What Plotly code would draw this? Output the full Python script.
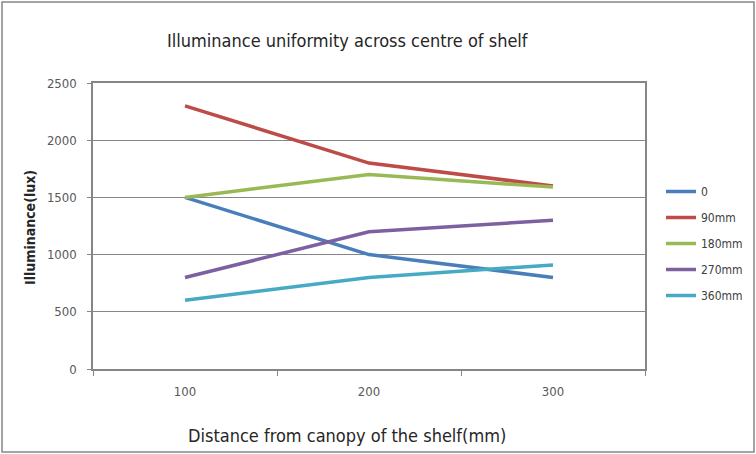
import plotly.graph_objects as go

categories = ["100", "200", "300"]
series_names = ["0", "90mm", "180mm", "270mm", "360mm"]
s_0 = [1500, 1000, 800]
s_90 = [2300, 1800, 1600]
s_180 = [1500, 1700, 1590]
s_270 = [800, 1200, 1300]
s_360 = [600, 800, 910]
y_ticks = [0, 500, 1000, 1500, 2000, 2500]

values = [s_0, s_90, s_180, s_270, s_360]
colors = ["#4A7EBB", "#BE4B48", "#98B954", "#7D60A0", "#46AAC5"]
FONT = "DejaVu Sans Condensed, Liberation Sans Narrow, Liberation Sans, sans-serif"

fig = go.Figure()
for name, vals, c in zip(series_names, values, colors):
    fig.add_trace(go.Scatter(x=categories, y=vals, name=name, mode="lines",
                             line=dict(color=c, width=3.5), legendgroup=name))

fig.update_layout(
    width=756, height=454,
    margin=dict(l=93, r=111, t=83, b=85),
    paper_bgcolor="white", plot_bgcolor="white",
    font=dict(family=FONT, color="#404040"),
    showlegend=True,
    legend=dict(xref="container", yref="container", x=661 / 756, y=1 - 177 / 454,
                xanchor="left", yanchor="top",
                font=dict(size=12, color="#404040", family=FONT),
                traceorder="grouped", tracegroupgap=7, itemwidth=30),
    xaxis=dict(type="category", range=[-0.5, 2.5], showgrid=False, showline=True,
               linecolor="#868686", linewidth=1.5, mirror=True, ticks="outside",
               tickson="boundaries", ticklen=5, tickcolor="#868686", ticklabelstandoff=10,
               tickfont=dict(size=13, color="#595959")),
    yaxis=dict(range=[0, 2500], tickvals=y_ticks, showgrid=True, gridcolor="#868686",
               gridwidth=1, showline=True, linecolor="#868686", linewidth=1.5, mirror=True,
               ticks="outside", ticklen=4, tickcolor="#868686", ticklabelstandoff=8,
               tickfont=dict(size=13, color="#595959"), zeroline=False),
    annotations=[
        dict(text="Illuminance uniformity across centre of shelf", xref="paper", yref="paper",
             x=(348 - 93) / 552, y=1 + (83 - 41) / 286, xanchor="center", yanchor="middle",
             showarrow=False, font=dict(size=18, color="#262626", family=FONT)),
        dict(text="Distance from canopy of the shelf(mm)", xref="paper", yref="paper",
             x=(347 - 93) / 552, y=-(435 - 369) / 286, xanchor="center", yanchor="middle",
             showarrow=False, font=dict(size=18, color="#262626", family=FONT)),
        dict(text="<b>Illuminance(lux)</b>", xref="paper", yref="paper", textangle=-90,
             x=-(93 - 30) / 552, y=(369 - 228) / 286, xanchor="center", yanchor="middle",
             showarrow=False, font=dict(size=14, color="#262626", family=FONT)),
    ],
    shapes=[dict(type="rect", xref="paper", yref="paper",
                 x0=-(93 - 2) / 552, x1=1 + (754 - 645) / 552,
                 y0=-(452 - 369) / 286, y1=1 + (83 - 2) / 286,
                 line=dict(color="#868686", width=1.5), layer="below")],
)

fig.write_html("out.html",
               config={"displayModeBar": False, "responsive": False},
               post_script="document.body.style.margin='0';document.body.style.overflow='hidden';")
